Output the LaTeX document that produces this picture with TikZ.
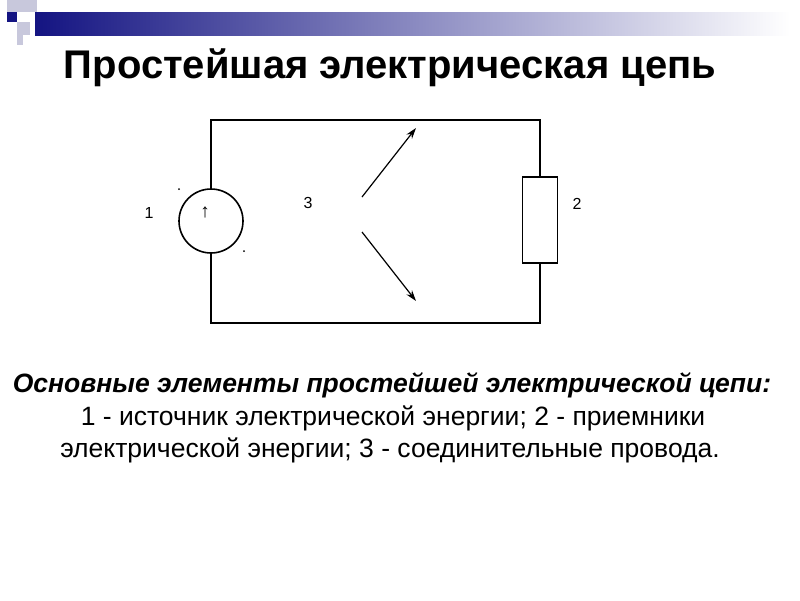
\documentclass[tikz,border=0pt]{standalone}
\usepackage{fontspec}
\setmainfont{Liberation Sans}
\usetikzlibrary{arrows.meta}
\definecolor{navy}{RGB}{20,20,130}
\definecolor{lsq}{RGB}{200,200,220}
\begin{document}
\begin{tikzpicture}[x=1pt,y=-1pt,
  wire/.style={line width=1.6pt},
  lbl/.style={font=\fontsize{16}{18}\selectfont},
  body/.style={font=\fontsize{26.5}{30}\selectfont, align=center}]
\useasboundingbox[fill=white] (0,0) rectangle (800,600);
% header
\shade[left color=navy, right color=white] (35,12) rectangle (790,35);
\fill[lsq] (7,0) rectangle (37,12);
\fill[lsq] (17,22) rectangle (30,35);
\fill[lsq] (17,35) rectangle (23,45);
\fill[navy] (7,12) rectangle (17,22);
\node[font=\bfseries\fontsize{40}{44}\selectfont] (title) at (390,68) {Простейшая электрическая цепь};
% circuit
\node[draw, circle, wire, minimum size=64pt, inner sep=0pt] (src) at (211,221) {};
\node[font=\fontsize{19}{21}\selectfont] (arr) at (205,212) {↑};
\node[draw, wire, minimum width=35pt, minimum height=86pt, inner sep=0pt] (res) at (540,220) {};
\coordinate (tl) at (211,120); \coordinate (tr) at (540,120);
\coordinate (bl) at (211,323); \coordinate (br) at (540,323);
\draw[wire] (src.north) -- (tl) -- (tr) -- (res.north);
\draw[wire] (src.south) -- (bl) -- (br) -- (res.south);
\coordinate (a1) at (362,197); \coordinate (a2) at (416,128);
\coordinate (b1) at (362,232); \coordinate (b2) at (416,301);
\draw[line width=1.2pt, -{Stealth[length=11pt,width=7pt]}] (a1) -- (a2);
\draw[line width=1.2pt, -{Stealth[length=11pt,width=7pt]}] (b1) -- (b2);
\node[lbl] (l1) at (149,213) {1};
\node[lbl] (l3) at (308,203) {3};
\node[lbl] (l2) at (577,204) {2};
\fill (179,189) circle (1pt);
\fill (244,251) circle (1pt);
% text
\node[body, font=\bfseries\itshape\fontsize{26.5}{30}\selectfont] (t1) at (392,385) {Основные элементы простейшей электрической цепи:};
\node[body] (t2) at (393,418) {1 - источник электрической энергии; 2 - приемники};
\node[body] (t3) at (390,450) {электрической энергии; 3 - соединительные провода.};
\end{tikzpicture}
\end{document}
